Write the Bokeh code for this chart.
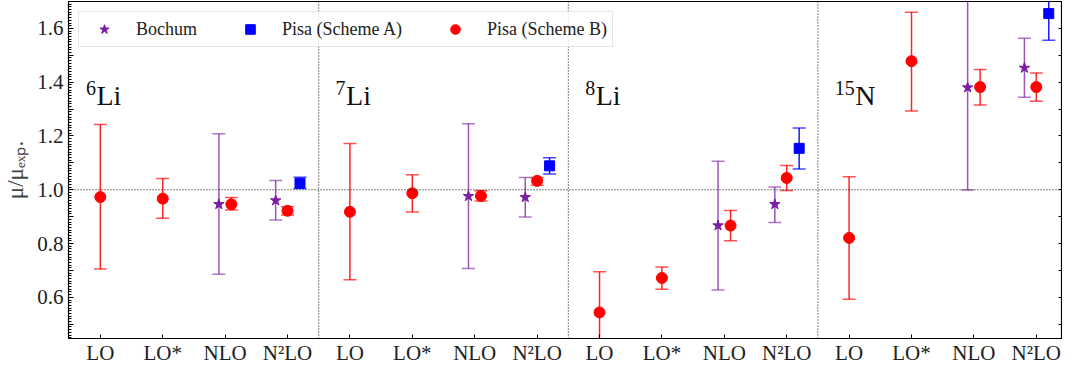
from bokeh.plotting import figure
from bokeh.models import (ColumnDataSource, Span, FixedTicker, LinearAxis, Legend,
                          LegendItem, Range1d, CustomLabelingPolicy)
from bokeh.core.properties import value
from bokeh.embed import file_html
from bokeh.resources import INLINE

# ---------------- data ----------------
nuclei_sup = ["6", "7", "8", "15"]
nuclei_sym = ["Li", "Li", "Li", "N"]
orders = ["LO", "LO*", "NLO", "N²LO"]

# Pisa (Scheme B): every order for every nucleus
pisaB_nuc = [0, 0, 0, 0, 1, 1, 1, 1, 2, 2, 2, 2, 3, 3, 3, 3]
pisaB_ord = [0, 1, 2, 3, 0, 1, 2, 3, 0, 1, 2, 3, 0, 1, 2, 3]
pisaB_val = [0.973, 0.967, 0.946, 0.922, 0.918, 0.987, 0.977, 1.033,
             0.544, 0.672, 0.867, 1.044, 0.821, 1.478, 1.382, 1.382]
pisaB_lo = [0.705, 0.894, 0.925, 0.906, 0.665, 0.917, 0.958, 1.017,
            0.393, 0.630, 0.810, 0.997, 0.593, 1.293, 1.315, 1.329]
pisaB_hi = [1.243, 1.042, 0.971, 0.937, 1.172, 1.056, 0.996, 1.046,
            0.695, 0.713, 0.923, 1.090, 1.048, 1.660, 1.447, 1.434]

# Bochum: NLO and N2LO
bochum_nuc = [0, 0, 1, 1, 2, 2, 3, 3]
bochum_ord = [2, 3, 2, 3, 2, 3, 2, 3]
bochum_val = [0.946, 0.960, 0.976, 0.972, 0.867, 0.946, 1.380, 1.453]
bochum_lo = [0.686, 0.888, 0.707, 0.899, 0.627, 0.878, 0.999, 1.344]
bochum_hi = [1.208, 1.034, 1.245, 1.046, 1.106, 1.010, 1.760, 1.563]

# Pisa (Scheme A): N2LO only
pisaA_nuc = [0, 1, 2, 3]
pisaA_ord = [3, 3, 3, 3]
pisaA_val = [1.024, 1.089, 1.154, 1.655]
pisaA_lo = [1.005, 1.059, 1.077, 1.556]
pisaA_hi = [1.047, 1.119, 1.230, 1.754]

# ---------------- style ----------------
FONT = "Liberation Serif"
C_BOC = "#7B1FA2"
C_A = "#0000FF"
C_B = "#FF0000"
N_ORD = len(orders)
OFF_BOC = {2: -0.1, 3: -0.19}
OFF_B = {0: 0.0, 1: 0.0, 2: 0.1, 3: 0.0}
OFF_A = {3: 0.2}
LABEL_Y = 1.35
LABEL_DX = -0.23


def xpos(nuc, ordr, off):
    return [N_ORD * n + o + off[o] for n, o in zip(nuc, ordr)]


p = figure(width=1062, height=367,
           x_range=Range1d(-0.51, 15.42), y_range=Range1d(0.447, 1.70),
           output_backend="svg", toolbar_location=None,
           min_border_left=65, min_border_right=0, min_border_top=1,
           min_border_bottom=20)
p.grid.visible = False
p.outline_line_color = "black"
p.outline_line_width = 1.2
p.background_fill_color = "white"
p.border_fill_color = "white"

# separators / reference line
for k in range(1, len(nuclei_sym)):
    p.add_layout(Span(location=N_ORD * k - 0.5, dimension="height",
                      line_color="black", line_dash="1 2", line_width=1))
p.add_layout(Span(location=1.0, dimension="width", line_color="black",
                  line_dash="1 2", line_width=1))


def series(nuc, ordr, off, val, lo, hi, color, marker, size, bar_alpha):
    x = xpos(nuc, ordr, off)
    src = ColumnDataSource(dict(x=x, y=val, lo=lo, hi=hi))
    p.segment(x0="x", y0="lo", x1="x", y1="hi", source=src,
              line_color=color, line_width=1.5, line_alpha=bar_alpha)
    p.scatter(x="x", y="lo", source=src, marker="dash", size=13,
              line_color=color, line_width=1.5, line_alpha=bar_alpha * 0.8)
    p.scatter(x="x", y="hi", source=src, marker="dash", size=13,
              line_color=color, line_width=1.5, line_alpha=bar_alpha * 0.8)
    return p.scatter(x="x", y="y", source=src, marker=marker, size=size,
                     fill_color=color, line_color=color)


r_boc = series(bochum_nuc, bochum_ord, OFF_BOC, bochum_val, bochum_lo,
               bochum_hi, C_BOC, "star", 11, 0.75)
r_a = series(pisaA_nuc, pisaA_ord, OFF_A, pisaA_val, pisaA_lo, pisaA_hi,
             C_A, "square", 10, 0.9)
r_b = series(pisaB_nuc, pisaB_ord, OFF_B, pisaB_val, pisaB_lo, pisaB_hi,
             C_B, "circle", 11, 0.85)

# nucleus labels
lab_x = [N_ORD * k + LABEL_DX for k in range(len(nuclei_sym))]
lab_src = ColumnDataSource(dict(
    x=lab_x, y=[LABEL_Y] * len(lab_x), sup=nuclei_sup, sym=nuclei_sym,
    dx=[10 * len(s) + 0.5 for s in nuclei_sup]))
p.text(x="x", y="y", text="sup", source=lab_src, text_font=value(FONT),
       text_font_size="20px", text_baseline="alphabetic", y_offset=-8,
       text_color="#111111")
p.text(x="x", y="y", text="sym", source=lab_src, text_font=value(FONT),
       text_font_size="28px", text_baseline="alphabetic", x_offset="dx",
       text_color="#111111")

# x axis
xt = list(range(N_ORD * len(nuclei_sym)))
p.xaxis.ticker = FixedTicker(ticks=xt, minor_ticks=[])
p.xaxis.major_label_overrides = {i: orders[i % N_ORD] for i in xt}
p.xaxis.major_tick_in = 4
p.xaxis.major_tick_out = 0
p.xaxis.minor_tick_in = 0
p.xaxis.minor_tick_out = 0
p.xaxis.major_label_standoff = 2
p.xaxis.major_label_text_font = FONT
p.xaxis.major_label_text_font_size = "21px"
p.xaxis.major_label_text_color = "#222222"
p.xaxis.axis_line_color = "black"

# y axis: ticks every 0.1, labels every 0.2
ymaj = [round(0.5 + 0.1 * i, 1) for i in range(13)]
ymin = [round(0.45 + 0.01 * i, 2) for i in range(126)]
p.yaxis.ticker = FixedTicker(ticks=ymaj, minor_ticks=ymin)
p.yaxis.major_label_overrides = {t: f"{t:.1f}" for t in ymaj}
p.yaxis.major_label_policy = CustomLabelingPolicy(code="""
const keep = [];
for (const i of indices) { if (i % 2 == 1) keep.push(i); }
return keep;
""")
p.yaxis.major_tick_in = 5
p.yaxis.major_tick_out = 0
p.yaxis.minor_tick_in = 3
p.yaxis.minor_tick_out = 0
p.yaxis.major_label_standoff = 5
p.yaxis.major_label_text_font = FONT
p.yaxis.major_label_text_font_size = "21px"
p.yaxis.major_label_text_color = "#222222"
p.yaxis.axis_label = "μ/μₑₓₚ."
p.yaxis.axis_label_text_font = FONT
p.yaxis.axis_label_text_font_size = "23px"
p.yaxis.axis_label_text_font_style = "normal"
p.yaxis.axis_label_standoff = 6
p.yaxis.axis_line_color = "black"

right = LinearAxis(ticker=FixedTicker(ticks=ymaj, minor_ticks=[]),
                   major_tick_in=4, major_tick_out=0, minor_tick_in=0,
                   minor_tick_out=0, major_label_text_font_size="0px",
                   major_label_standoff=0, axis_line_color="black",
                   major_label_policy=CustomLabelingPolicy(code="return [];"))
p.add_layout(right, "right")

legend = Legend(items=[
    LegendItem(label="Bochum", renderers=[r_boc]),
    LegendItem(label="Pisa (Scheme A)", renderers=[r_a]),
    LegendItem(label="Pisa (Scheme B)", renderers=[r_b]),
], location="top_left", orientation="horizontal")
legend.label_text_font = FONT
legend.label_text_font_size = "18px"
legend.label_text_color = "#222222"
legend.glyph_width = 40
legend.glyph_height = 24
legend.label_standoff = 12
legend.spacing = 33
legend.padding = 5
legend.margin = 10
legend.border_line_color = "#cccccc"
legend.border_line_width = 1
legend.background_fill_alpha = 0.8
p.add_layout(legend)

open("out.html", "w").write(file_html(p, INLINE))
